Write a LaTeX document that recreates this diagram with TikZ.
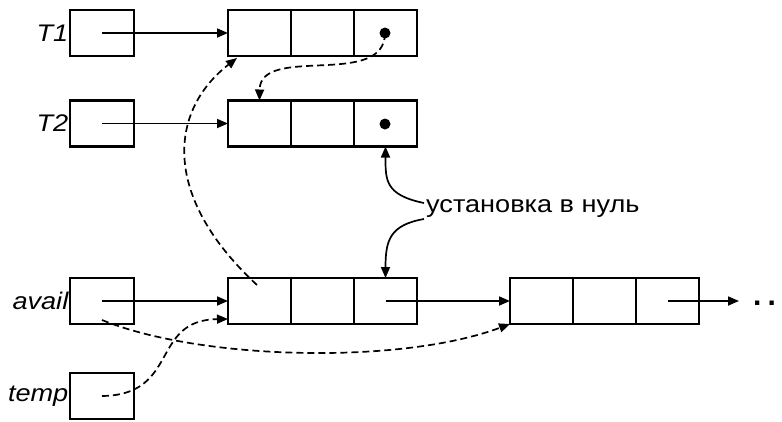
\documentclass[tikz,border=0pt]{standalone}
\usepackage{fontspec}
\setmainfont{Liberation Sans}
\usetikzlibrary{arrows.meta}
\newcommand{\wtext}[1]{\scalebox{1.13}[1]{#1}}
\begin{document}
\begin{tikzpicture}[x=1pt,y=-1pt,
  cell/.style={draw,line width=2.2pt,minimum width=63pt,minimum height=46pt,inner sep=0pt,outer sep=0pt},
  ptr/.style={draw,line width=2.2pt,minimum width=64pt,minimum height=46pt,inner sep=0pt,outer sep=0pt},
  lbl/.style={anchor=east,inner sep=1.5pt,font=\fontsize{24}{28}\selectfont\itshape},
  arr/.style={line width=1.7pt,-{Triangle[length=11pt,width=9pt]}},
  darr/.style={arr,dash pattern=on 7pt off 4pt},
  dot/.style={circle,fill,inner sep=0pt,minimum size=11pt}]
\useasboundingbox (0,0) rectangle (782,421);
% pointer boxes
\node[ptr] (t1) at (102,33) {};
\node[ptr] (t2) at (102,123.5) {};
\node[ptr] (av) at (102,301) {};
\node[ptr] (tm) at (102,396) {};
\node[lbl] at (t1.west) {\wtext{T1}};
\node[lbl] at (t2.west) {\wtext{T2}};
\node[lbl] at (av.west) {\wtext{avail}};
\node[lbl] at (tm.west) {\wtext{temp}};
% records
\foreach \r/\y in {a/33,b/123.5,c/301}{
  \node[cell] (\r1) at (259.5,\y) {};
  \node[cell] (\r2) at (322.5,\y) {};
  \node[cell] (\r3) at (385.5,\y) {};
}
\node[cell] (d1) at (541.5,301) {};
\node[cell] (d2) at (604.5,301) {};
\node[cell] (d3) at (667.5,301) {};
\node[dot] (pa) at (385,33) {};
\node[dot] (pb) at (385,124) {};
\coordinate (end) at (739,301);
\node[anchor=base west,inner sep=0pt,font=\fontsize{30}{34}\selectfont\bfseries] (dots) at (753,305) {.\kern6pt.};
% solid arrows
\draw[arr] (t1.center) -- (a1.west);
\draw[arr] (t2.center) -- (b1.west);
\draw[arr] (av.center) -- (c1.west);
\draw[arr] (c3.center) -- (d1.west);
\draw[arr] (d3.center) -- (end);
% label
\node[anchor=west,inner sep=0pt,font=\fontsize{24}{28}\selectfont] (note) at (426,209) {\wtext{установка в нуль}};
\coordinate (n1) at (424,203);
\coordinate (n2) at (424,219);
\draw[arr] (n1) .. controls (385,195) and (385.5,180) .. (b3.south);
\draw[arr] (n2) .. controls (390,225) and (385.5,240) .. (c3.north);
% dashed arrows
\coordinate (s1) at (257,285);
\draw[darr] (pa.center) .. controls (385,89) and (260,44) .. (b1.north);
\draw[darr] (s1) .. controls (160,195) and (170,110) .. (237,58);
\draw[darr] (av.center) ++(0,19) .. controls (200,360) and (400,365) .. (d1.south west);
\draw[darr] (tm.center) .. controls (180,395) and (150,320) .. (c1.south west |- 0,319);
\end{tikzpicture}
\end{document}
